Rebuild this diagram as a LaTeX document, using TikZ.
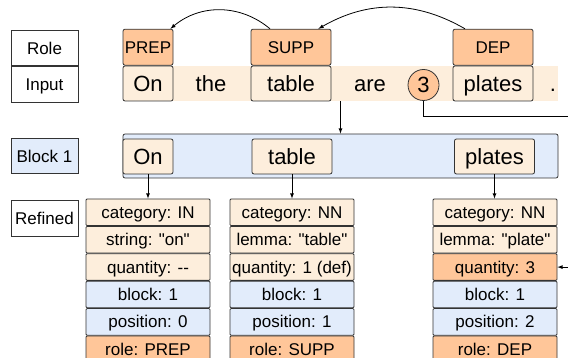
\documentclass[tikz,border=0pt]{standalone}
\usepackage{fontspec}
\setmainfont{Liberation Sans}[Ligatures=TeXOff]
\usetikzlibrary{positioning, arrows}
\definecolor{pale}{HTML}{FDEEDC}
\definecolor{peach}{HTML}{FFC699}
\definecolor{sky}{HTML}{E2ECFB}

\begin{document}
\begin{tikzpicture}[x=1pt, y=1pt, >=latex, node distance=0pt, line width=0.8pt,
    every node/.style={font=\fontsize{17}{20}\selectfont, inner sep=0pt, text height=12.2, text depth=0},
    labelbox/.style={draw=black!80, minimum width=67, minimum height=35.5},
    word/.style={draw=black!80, rounded corners=2pt, fill=pale, minimum height=35, font=\fontsize{22}{26}\selectfont, text height=15.8},
    plain/.style={font=\fontsize{22}{26}\selectfont, text height=15.8},
    rolebox/.style={draw=black!80, rounded corners=2pt, fill=peach, minimum height=36},
    attr/.style={draw=black!80, rounded corners=1pt, fill=pale, minimum width=124, minimum height=26.6}]
    \useasboundingbox (0,0) rectangle (568,358);
    \clip (0,0) rectangle (568,358);

    % row labels
    \node[labelbox] (rolelbl) at (44.5,310) {Role};
    \node[labelbox, below=of rolelbl] (inputlbl) {Input};
    \node[labelbox, fill=sky] (blocklbl) at (44.5,202) {Block 1};
    \node[labelbox] (refinedlbl) at (44.5,139.5) {Refined};

    % input sentence
    \node[fill=pale, minimum width=435, minimum height=35] (band) at (340.5,274.5) {};
    \node[word, minimum width=50] (on) at (148,274.5) {On};
    \node[plain] (the) at (211,274.5) {the};
    \node[word, minimum width=80] (table) at (291,274.5) {table};
    \node[plain] (are) at (370,274.5) {are};
    \node[circle, draw=black!80, fill=peach, minimum size=31, font=\fontsize{22}{26}\selectfont, text height=15.8] (three) at (423.5,273) {3};
    \node[word, minimum width=80] (plates) at (493,274.5) {plates};
    \node[plain] (dot) at (553,274.5) {.};

    % roles
    \node[rolebox, minimum width=50, above=of on] (prep) {PREP};
    \node[rolebox, minimum width=80, above=of table] (supp) {SUPP};
    \node[rolebox, minimum width=80, above=of plates] (dep) {DEP};
    \draw[->] ([xshift=-21]supp.north) to[bend right=40] ([xshift=-3]prep.north east);
    \draw[->] ([xshift=-28]dep.north) to[bend right=30] ([xshift=-13]supp.north east);

    % block
    \node[draw=black!80, rounded corners=2pt, fill=sky, minimum width=435, minimum height=44] (block) at (340.5,202) {};
    \node[word, minimum width=50] (on2) at (148,201.5) {On};
    \node[word, minimum width=80] (table2) at (292,201.5) {table};
    \node[word, minimum width=80] (plates2) at (494.5,201.5) {plates};
    \draw[->] (band) -- (block);

    % refined
    \node[attr] (s1cat) at (148,145.7) {category: IN};
    \node[attr, below=of s1cat] (s1str) {string: "on"};
    \node[attr, below=of s1str] (s1qty) {quantity: --};
    \node[attr, fill=sky, below=of s1qty] (s1blk) {block: 1};
    \node[attr, fill=sky, below=of s1blk] (s1pos) {position: 0};
    \node[attr, fill=peach, below=of s1pos] (s1role) {role: PREP};

    \node[attr] (s2cat) at (292,145.7) {category: NN};
    \node[attr, below=of s2cat] (s2lem) {lemma: "table"};
    \node[attr, below=of s2lem] (s2qty) {quantity: 1 (def)};
    \node[attr, fill=sky, below=of s2qty] (s2blk) {block: 1};
    \node[attr, fill=sky, below=of s2blk] (s2pos) {position: 1};
    \node[attr, fill=peach, below=of s2pos] (s2role) {role: SUPP};

    \node[attr] (s3cat) at (495,145.7) {category: NN};
    \node[attr, below=of s3cat] (s3lem) {lemma: "plate"};
    \node[attr, fill=peach, below=of s3lem] (s3qty) {quantity: 3};
    \node[attr, fill=sky, below=of s3qty] (s3blk) {block: 1};
    \node[attr, fill=sky, below=of s3blk] (s3pos) {position: 2};
    \node[attr, fill=peach, below=of s3pos] (s3role) {role: DEP};

    \draw[->] (on2) -- (s1cat);
    \draw[->] (table2) -- (s2cat);
    \draw[->] (plates2.south) -- (plates2.south |- s3cat.north);

    \coordinate (turn) at (580,242);
    \draw[->] (three.south) |- (turn) |- (s3qty.east);
\end{tikzpicture}
\end{document}
